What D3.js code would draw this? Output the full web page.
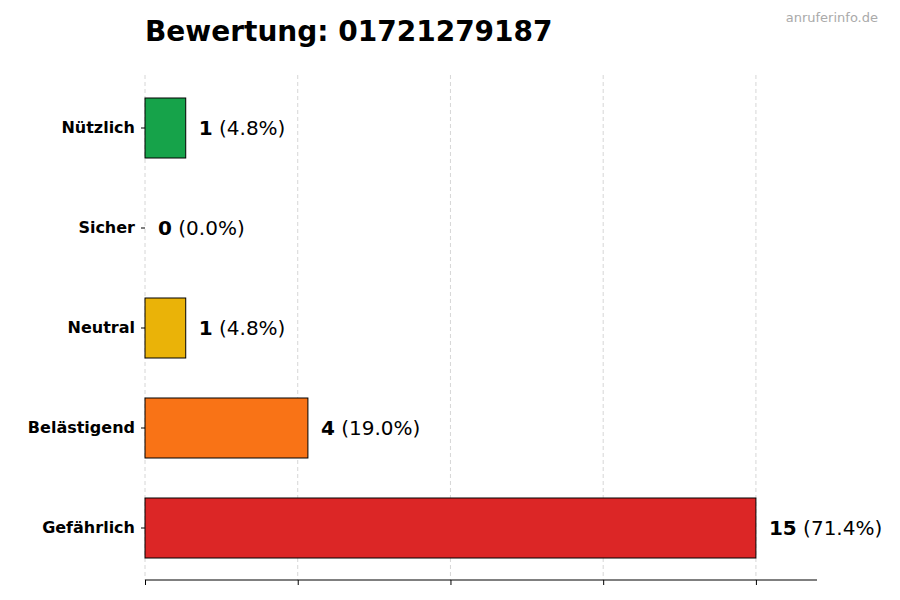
<!DOCTYPE html>
<html><head><meta charset="utf-8">
<script src="https://cdn.jsdelivr.net/npm/d3@7"></script>
<style>body{margin:0;background:#fff;font-family:"DejaVu Sans",sans-serif}</style>
</head><body><svg width="900" height="600"></svg>
<script>
const categories = ["Nützlich", "Sicher", "Neutral", "Belästigend", "Gefährlich"];
const counts = [1, 0, 1, 4, 15];
const percents = ["4.8%", "0.0%", "4.8%", "19.0%", "71.4%"];
const colors = ["#16a34a", "#6b7280", "#eab308", "#f97316", "#dc2626"];
const gridTicks = [0, 3.75, 7.5, 11.25, 15];

const svg = d3.select("svg");
const x = d3.scaleLinear().domain([0, 16.5]).range([145, 817]);
const y = d3.scaleBand().domain(categories).range([78, 578]).paddingInner(0.4).paddingOuter(0.2);

svg.append("g").selectAll("line").data(gridTicks).enter().append("line")
  .attr("x1", d => x(d)).attr("x2", d => x(d)).attr("y1", 75).attr("y2", 580)
  .attr("stroke", "#ccc").attr("stroke-dasharray", "4,3").attr("stroke-width", 0.8);

svg.append("g").selectAll("rect").data(categories).enter().append("rect")
  .attr("x", x(0)).attr("y", d => y(d))
  .attr("width", (d, i) => x(counts[i]) - x(0)).attr("height", y.bandwidth())
  .attr("fill", (d, i) => colors[i]).attr("stroke", "#000").attr("stroke-width", 1);

const lab = svg.append("g").selectAll("text").data(categories).enter().append("text")
  .attr("x", (d, i) => x(counts[i]) + 13).attr("y", d => y(d) + y.bandwidth() / 2 + 7)
  .attr("font-size", 20);
lab.append("tspan").attr("font-weight", "bold").text((d, i) => counts[i]);
lab.append("tspan").text((d, i) => " (" + percents[i] + ")");

const yAxis = svg.append("g").attr("transform", "translate(145,0)")
  .call(d3.axisLeft(y).tickSize(4).tickPadding(6));
yAxis.select(".domain").remove();
yAxis.selectAll("text").attr("font-size", 16).attr("font-weight", "bold").attr("font-family", "DejaVu Sans");

const xAxis = svg.append("g").attr("transform", "translate(0,580)")
  .call(d3.axisBottom(x).tickValues(gridTicks).tickFormat("").tickSize(5));
xAxis.select(".domain").attr("d", "M145,0H817");

svg.append("text").attr("x", 145).attr("y", 41).attr("font-size", 28).attr("font-weight", "bold").text("Bewertung: 01721279187");
svg.append("text").attr("x", 878).attr("y", 22).attr("text-anchor", "end").attr("font-size", 13).attr("fill", "#aaa").text("anruferinfo.de");
</script></body></html>
